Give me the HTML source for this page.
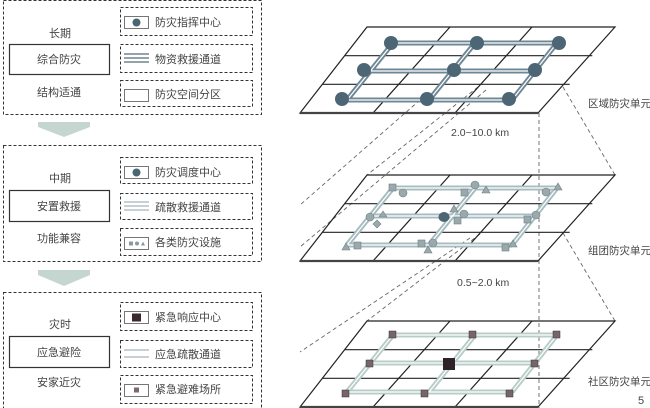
<!DOCTYPE html>
<html><head><meta charset="utf-8"><style>
html,body{margin:0;padding:0;background:#fff;width:650px;height:408px;overflow:hidden}
svg{display:block}
text{font-family:"Liberation Sans","Noto Sans CJK SC",sans-serif;fill:#444}
</style></head><body>
<svg width="650" height="408" viewBox="0 0 650 408" xmlns="http://www.w3.org/2000/svg">
<defs>
<g id="grid">
<polygon points="367,0 615,0 538,86 300,86" fill="none" stroke="#222" stroke-width="1.2"/>
<line x1="344.7" y1="28.7" x2="592.3" y2="28.7" stroke="#222" stroke-width="1.2"/>
<line x1="322.3" y1="57.3" x2="569.7" y2="57.3" stroke="#222" stroke-width="1.2"/>
<line x1="450" y1="0" x2="373" y2="86" stroke="#222" stroke-width="1.2"/>
<line x1="532" y1="0" x2="455" y2="86" stroke="#222" stroke-width="1.2"/>
<line x1="300" y1="86" x2="538" y2="86" stroke="#444" stroke-width="2.2"/>
</g>
<g id="roads">
<path d="M393,0 H557 M370,28 H535 M347,57 H512 M393,0 L347,57 M475,0 L429,57 M557,0 L512,57" fill="none"/>
</g>
</defs>
<g fill="none" stroke="#333" stroke-width="1" stroke-dasharray="3,2">
<rect x="3.5" y="0.5" width="258" height="114"/>
<rect x="120.5" y="7.5" width="132" height="28"/>
<rect x="120.5" y="44.5" width="132" height="28"/>
<rect x="120.5" y="80.5" width="132" height="26"/>
<rect x="3.5" y="145.5" width="258" height="116"/>
<rect x="120.5" y="157.5" width="132" height="26"/>
<rect x="120.5" y="193.5" width="132" height="26"/>
<rect x="120.5" y="228.5" width="132" height="27"/>
<rect x="3.5" y="292.5" width="258" height="118"/>
<rect x="120.5" y="302.5" width="132" height="28"/>
<rect x="120.5" y="340.5" width="132" height="27"/>
<rect x="120.5" y="375.5" width="132" height="28"/>
</g>
<g fill="none" stroke="#333" stroke-width="1.2">
<rect x="9.5" y="44.5" width="100" height="30"/>
<rect x="9.5" y="190.5" width="100" height="31"/>
<rect x="9.5" y="336.5" width="100" height="31"/>
</g>
<polygon points="38,122 90,122 90,127 64,137 38,127" fill="#c5d6d0"/>
<polygon points="38,270 90,270 90,275 64,286 38,275" fill="#c5d6d0"/>
<g stroke="#555" stroke-width="0.8" fill="#fff">
<rect x="124.5" y="16.5" width="24" height="12"/>
<rect x="124.5" y="166.5" width="24" height="12"/>
<rect x="124.5" y="237.5" width="24" height="12"/>
<rect x="124.5" y="311.5" width="24" height="12"/>
<rect x="124.5" y="384.5" width="24" height="12"/>
</g>
<circle cx="136.5" cy="22.5" r="4" fill="#4a6670"/>
<circle cx="136.5" cy="172.5" r="4" fill="#4a6670"/>
<rect x="132" y="313.5" width="9" height="8" fill="#3a2a2e"/>
<rect x="134" y="387.5" width="5" height="5" fill="#7d6a70"/>
<rect x="129" y="241.5" width="4" height="4" fill="#8a9aa0"/>
<circle cx="137" cy="243.5" r="2" fill="#8a9aa0"/>
<polygon points="141,245.5 145,245.5 143,241.5" fill="#8a9aa0"/>
<g stroke="#556a78" stroke-width="1.3">
<line x1="124" y1="54" x2="149" y2="54"/><line x1="124" y1="58" x2="149" y2="58"/><line x1="124" y1="62" x2="149" y2="62"/>
</g>
<g stroke="#8fa2a8" stroke-width="1">
<line x1="124" y1="202" x2="149" y2="202"/><line x1="124" y1="206" x2="149" y2="206"/><line x1="124" y1="210" x2="149" y2="210"/>
<line x1="124" y1="350" x2="149" y2="350"/><line x1="124" y1="357" x2="149" y2="357"/>
</g>
<rect x="124.5" y="89.5" width="24" height="12" fill="none" stroke="#555" stroke-width="0.8"/>
<g font-size="11">
<text x="49" y="37">长期</text>
<text x="37" y="63">综合防灾</text>
<text x="37" y="96">结构适通</text>
<text x="49" y="182">中期</text>
<text x="37" y="210">安置救援</text>
<text x="37" y="242">功能兼容</text>
<text x="49" y="328">灾时</text>
<text x="37" y="356">应急避险</text>
<text x="37" y="386">安家近灾</text>
<text x="155" y="26">防灾指挥中心</text>
<text x="155" y="63">物资救援通道</text>
<text x="155" y="98">防灾空间分区</text>
<text x="155" y="176">防灾调度中心</text>
<text x="155" y="211">疏散救援通道</text>
<text x="155" y="246">各类防灾设施</text>
<text x="155" y="321">紧急响应中心</text>
<text x="155" y="358">应急疏散通道</text>
<text x="155" y="393">紧急避难场所</text>
</g>
<g stroke="#666" stroke-width="0.9" stroke-dasharray="4,3" fill="none">
<line x1="539" y1="113" x2="539" y2="408"/>
<line x1="563" y1="87" x2="615" y2="175"/>
<line x1="563" y1="233" x2="615" y2="321"/>
<line x1="478" y1="87" x2="367" y2="175"/>
<line x1="486" y1="90" x2="300" y2="247"/>
<line x1="420" y1="100" x2="300" y2="205"/>
<line x1="480" y1="234" x2="367" y2="321"/>
<line x1="470" y1="238" x2="300" y2="352"/>
</g>
<use href="#grid" transform="translate(0,27)"/>
<use href="#grid" transform="translate(0,175)"/>
<use href="#grid" transform="translate(0,321)"/>
<g transform="translate(0,43)">
<use href="#roads" stroke="#6f8794" stroke-width="5"/>
<use href="#roads" stroke="#fff" stroke-width="1.2"/>
</g>
<g fill="#4d6676">
<circle cx="391" cy="43" r="7"/><circle cx="477" cy="43" r="7"/><circle cx="559" cy="43" r="7"/>
<circle cx="364" cy="70" r="7"/><circle cx="454" cy="70" r="7"/><circle cx="535" cy="70" r="7"/>
<circle cx="342" cy="99" r="7"/><circle cx="427" cy="99" r="7"/><circle cx="509" cy="99" r="7"/>
</g>
<g transform="translate(0,188)">
<use href="#roads" stroke="#a6bcc0" stroke-width="5"/>
<use href="#roads" stroke="#fff" stroke-width="1.2"/>
</g>
<g fill="#9aa9ac" stroke="#6f8086" stroke-width="0.6">
<rect x="389" y="184" width="7" height="7"/><circle cx="403" cy="193" r="4"/>
<circle cx="475" cy="185" r="4"/><polygon points="482,193 490,193 486,186"/>
<rect x="461" y="189" width="7" height="7"/><circle cx="546" cy="192" r="4"/>
<polygon points="554,190 562,190 558,183"/>
<circle cx="370" cy="217" r="4"/><polygon points="379,217 387,217 383,211"/>
<polygon points="377,220 381,224 377,228 373,224"/>
<polygon points="450,212 458,212 454,205"/><circle cx="464" cy="214" r="4"/>
<rect x="454" y="217" width="7" height="7"/><rect x="524" y="216" width="7" height="7"/>
<circle cx="536" cy="215" r="4"/>
<polygon points="342,250 350,250 346,243"/><rect x="354" y="242" width="7" height="7"/>
<rect x="418" y="240" width="7" height="7"/><circle cx="433" cy="243" r="4"/>
<polygon points="424,253 432,253 428,246"/><rect x="502" y="244" width="7" height="7"/>
<polygon points="509,247 517,247 513,240"/>
</g>
<ellipse cx="444" cy="217" rx="5.5" ry="5" fill="#4d6676"/>
<g transform="translate(0,335)">
<use href="#roads" stroke="#b8ccc8" stroke-width="5"/>
<use href="#roads" stroke="#fff" stroke-width="1.2"/>
</g>
<g fill="#776569" stroke="#333" stroke-width="0.5">
<rect x="389" y="331" width="7" height="7"/><rect x="469" y="331" width="7" height="7"/><rect x="553" y="331" width="7" height="7"/>
<rect x="366" y="360" width="7" height="7"/><rect x="531" y="360" width="7" height="7"/>
<rect x="342" y="390" width="7" height="7"/><rect x="421" y="390" width="7" height="7"/><rect x="506" y="390" width="7" height="7"/>
</g>
<rect x="443" y="358" width="12" height="12" fill="#2f2226"/>
<g font-size="10.5">
<text x="588" y="107">区域防灾单元</text>
<text x="588" y="254">组团防灾单元</text>
<text x="588" y="385">社区防灾单元</text>
<text x="451" y="136">2.0~10.0 km</text>
<text x="457" y="286">0.5~2.0 km</text>
<text x="638" y="404" font-size="11">5</text>
</g>
</svg>
</body></html>
